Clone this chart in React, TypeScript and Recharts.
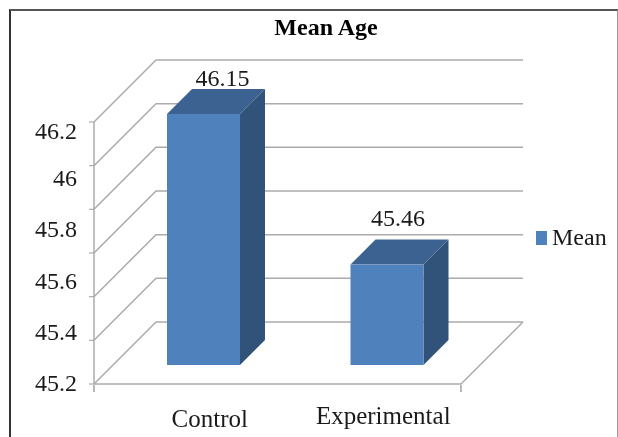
import { BarChart, Bar, XAxis, YAxis, CartesianGrid, Legend, LabelList } from 'recharts';

// Values
const categories = ['Control', 'Experimental'];
const means = [46.15, 45.46];
const scaleTicks = [45, 45.2, 45.4, 45.6, 45.8, 46, 46.2];
const printedTicks = [45.2, 45.4, 45.6, 45.8, 46, 46.2];
const edgeTicks = [0, 1, 2];

const data = categories.map((name, i) => ({ name, mean: means[i] }));

const FONT = '"Liberation Serif", "Times New Roman", serif';
const TEXT = '#1a1a1a';
const GRID = '#ababab';
const FRONT = '#4f81bd';
const TOP = '#3c6291';
const SIDE = '#325379';

// fake 3d: depth of the walls and of the bars, and where the bars sit on the floor
const WALL = 62;
const BAR_DEPTH = 25;
const FLOOR_X = 18;
const FLOOR_Y = 19;

const BAR_LABEL_SHIFT = [
  { x: 37, y: -55 },
  { x: 29, y: -66 },
];
const CATEGORY_SHIFT = [
  { x: 24, y: 26 },
  { x: 14, y: 23 },
];
// the printed labels drift below their tick marks in the original
const PRINTED_DROP = [0, 43, 35, 28, 20, 12, 9];

function Bar3D(props: any) {
  const { x, y, width, height } = props;
  const l = x + FLOOR_X;
  const r = l + width;
  const t = y - FLOOR_Y;
  const b = t + height;
  const d = BAR_DEPTH;
  return (
    <g>
      <path d={`M${l} ${t}L${l + d} ${t - d}L${r + d} ${t - d}L${r} ${t}Z`} fill={TOP} />
      <path d={`M${r} ${t}L${r + d} ${t - d}L${r + d} ${b - d}L${r} ${b}Z`} fill={SIDE} />
      <rect x={l} y={t} width={width} height={height} fill={FRONT} />
    </g>
  );
}

function BarValue(props: any) {
  const { x, y, width, value, index } = props;
  const shift = BAR_LABEL_SHIFT[index];
  return (
    <text
      x={x + width / 2 + shift.x}
      y={y + shift.y}
      textAnchor="middle"
      dominantBaseline="central"
      fontFamily={FONT}
      fontSize={24}
      fill={TEXT}
    >
      {value}
    </text>
  );
}

function CategoryTick(props: any) {
  const { x, y, payload, index } = props;
  const shift = CATEGORY_SHIFT[index];
  return (
    <text
      x={x + shift.x}
      y={y + shift.y}
      textAnchor="middle"
      dominantBaseline="central"
      fontFamily={FONT}
      fontSize={25}
      fill={TEXT}
    >
      {payload.value}
    </text>
  );
}

function ValueTick(props: any) {
  const { x, y, payload, index } = props;
  if (!printedTicks.includes(payload.value)) return <g />;
  return (
    <text
      x={x - 10}
      y={y + PRINTED_DROP[index]}
      textAnchor="end"
      dominantBaseline="central"
      fontFamily={FONT}
      fontSize={24}
      fill={TEXT}
    >
      {payload.value}
    </text>
  );
}

// side wall diagonal + back wall line for each level, floor edge on the lowest one
function GridLevel(props: any) {
  const { x1, x2, y1, index } = props;
  const floor = index === 0;
  return (
    <g fill="none" stroke={GRID} strokeWidth={1.5}>
      <path d={`M${x1} ${y1}L${x1 + WALL} ${y1 - WALL}L${x2 + WALL} ${y1 - WALL}`} />
      {floor && <path d={`M${x2} ${y1}L${x2 + WALL} ${y1 - WALL}`} />}
    </g>
  );
}

function MeanLegend() {
  return (
    <div style={{ display: 'flex', alignItems: 'center', fontFamily: FONT, fontSize: 24, color: TEXT, width: 76 }}>
      <span style={{ width: 11, height: 14, background: FRONT, marginRight: 5, flex: 'none' }} />
      Mean
    </div>
  );
}

export default function App() {
  return (
    <div style={{ position: 'absolute', left: 0, top: 0, width: 618, height: 437, overflow: 'hidden', background: '#fff' }}>
      <div
        style={{
          position: 'absolute',
          left: 9,
          top: 9,
          width: 606,
          height: 440,
          borderLeft: '2px solid #333',
          borderTop: '2px solid #555',
          borderRight: '1px solid #999',
        }}
      />
      <div style={{ position: 'absolute', left: 0, top: 0, filter: 'blur(0.45px)' }}>
        <BarChart
          width={618}
          height={437}
          data={data}
          barSize={73}
          margin={{ top: 122, right: 81, bottom: 51, left: 93 }}
        >
          <CartesianGrid vertical={false} horizontal={GridLevel} />
          <XAxis
            dataKey="name"
            height={1}
            stroke={GRID}
            strokeWidth={1.5}
            tickLine={false}
            tick={CategoryTick}
            interval={0}
          />
          <XAxis
            xAxisId="edges"
            type="number"
            domain={[0, 2]}
            ticks={edgeTicks}
            height={1}
            axisLine={false}
            tickFormatter={() => ''}
            tickLine={{ stroke: '#888', strokeWidth: 1.2 }}
            tickSize={7}
          />
          <YAxis
            domain={[45, 46.2]}
            ticks={scaleTicks}
            width={1}
            interval={0}
            stroke={GRID}
            strokeWidth={1.5}
            tick={ValueTick}
            tickLine={{ stroke: GRID, strokeWidth: 1.2 }}
            tickSize={5}
          />
          <Bar dataKey="mean" name="Mean" fill={FRONT} shape={Bar3D} isAnimationActive={false}>
            <LabelList dataKey="mean" content={BarValue} />
          </Bar>
          <Legend
            layout="vertical"
            align="right"
            verticalAlign="middle"
            content={MeanLegend}
            wrapperStyle={{ left: 536, top: 224, width: 76 }}
          />
          <text
            x={326}
            y={27}
            textAnchor="middle"
            dominantBaseline="central"
            fontFamily={FONT}
            fontSize={24}
            fontWeight="bold"
            fill="#000"
          >
            Mean Age
          </text>
        </BarChart>
      </div>
    </div>
  );
}
